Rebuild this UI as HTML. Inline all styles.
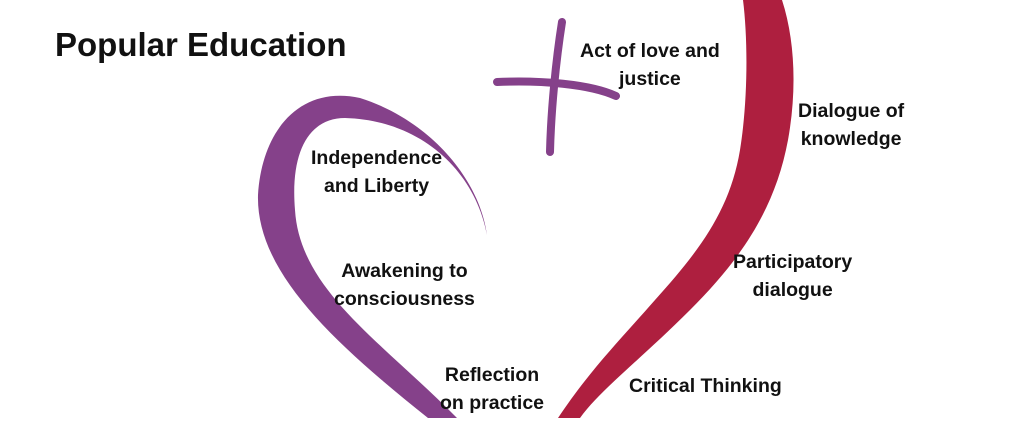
<!DOCTYPE html>
<html><head><style>
body{margin:0;width:1024px;height:427px;background:#fff;overflow:hidden;position:relative;font-family:"Liberation Sans",sans-serif;font-weight:bold;color:#111}
.t{position:absolute;font-size:19.5px;line-height:28px;text-align:center;white-space:nowrap}
</style></head><body>
<svg width="1024" height="427" style="position:absolute;left:0;top:0">
<path d="M743,0 L782,0 C795,40 797,90 788,140 C775,210 740,260 690,310 C640,360 600,390 580,418 L558,418 C590,370 620,340 655,300 C700,250 730,210 740,150 C748,100 748,40 743,0 Z" fill="#ae1f3f"/>
<path d="M487,235 C480,180 430,120 360,98 C300,85 262,130 258,195 C256,270 330,340 428,418 L457,418 C380,340 300,290 295,210 C290,150 310,118 345,118 C420,120 475,170 487,235 Z" fill="#85418a"/>
<path d="M562,22 C556,60 551,110 550,152" stroke="#85418a" stroke-width="8" fill="none" stroke-linecap="round"/>
<path d="M497,82 C540,80 590,84 616,96" stroke="#85418a" stroke-width="8" fill="none" stroke-linecap="round"/>
</svg>
<div style="position:absolute;left:55px;top:26px;font-size:33px">Popular Education</div>
<div class="t" style="left:580px;top:37px">Act of love and<br>justice</div>
<div class="t" style="left:798px;top:97px">Dialogue of<br>knowledge</div>
<div class="t" style="left:311px;top:144px">Independence<br>and Liberty</div>
<div class="t" style="left:334px;top:257px">Awakening to<br>consciousness</div>
<div class="t" style="left:733px;top:248px">Participatory<br>dialogue</div>
<div class="t" style="left:440px;top:361px">Reflection<br>on practice</div>
<div class="t" style="left:629px;top:372px">Critical Thinking</div>
</body></html>
